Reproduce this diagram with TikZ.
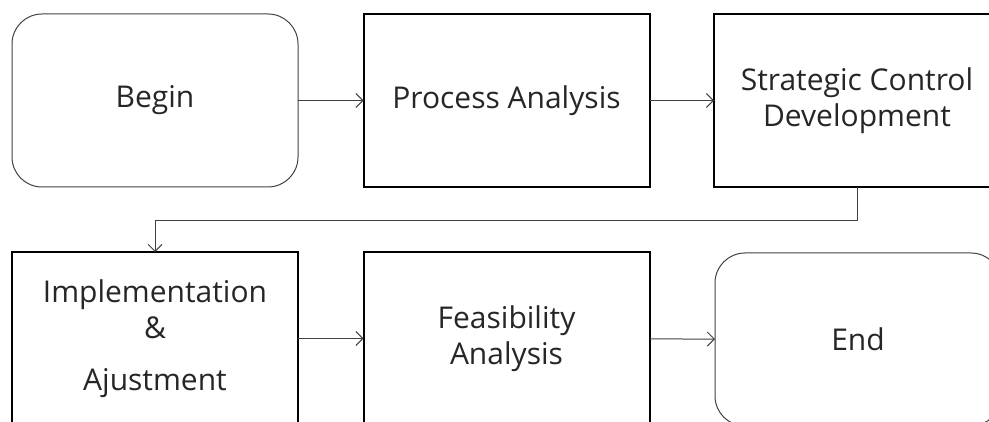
\documentclass[tikz,border=0pt]{standalone}
\usepackage{fontspec}
\setmainfont{Open Sans}
\usetikzlibrary{arrows.meta}
\definecolor{linegray}{HTML}{404040}
\tikzset{
  base/.style={minimum width=286pt, minimum height=173pt, inner sep=0pt, outer sep=0pt,
    align=center, font=\fontsize{30}{36}\selectfont, text=black!85},
  sqbox/.style={base, draw=black, line width=2pt},
  rdbox/.style={base, draw=linegray, line width=1pt, rounded corners=30pt},
  conn/.style={draw=linegray, line width=1pt, -{Straight Barb[length=7pt,width=14pt,line width=1pt]}}
}
\begin{document}
\begin{tikzpicture}[x=1pt,y=-1pt]
\useasboundingbox (0,0) rectangle (989,422);
\clip (0,0) rectangle (989,422);
\node[rdbox] (begin) at (155,100.5) {Begin};
\node[sqbox] (proc) at (506.5,100.5) {Process Analysis};
\node[sqbox] (strat) at (857,100.5) {Strategic Control\\Development};
\node[sqbox] (impl) at (155,338.5) {Implementation\\\&\\[16pt]Ajustment};
\node[sqbox] (feas) at (506.5,338.5) {Feasibility\\Analysis};
\node[rdbox] (end) at (858,339.5) {End};
\coordinate (turn) at (857,221);
\draw[conn] (begin) -- (proc);
\draw[conn] (proc) -- (strat);
\draw[conn] (strat.south) -- (turn) -| (impl.north);
\draw[conn] (impl) -- (feas);
\draw[conn] (feas) -- (end);
\end{tikzpicture}
\end{document}
